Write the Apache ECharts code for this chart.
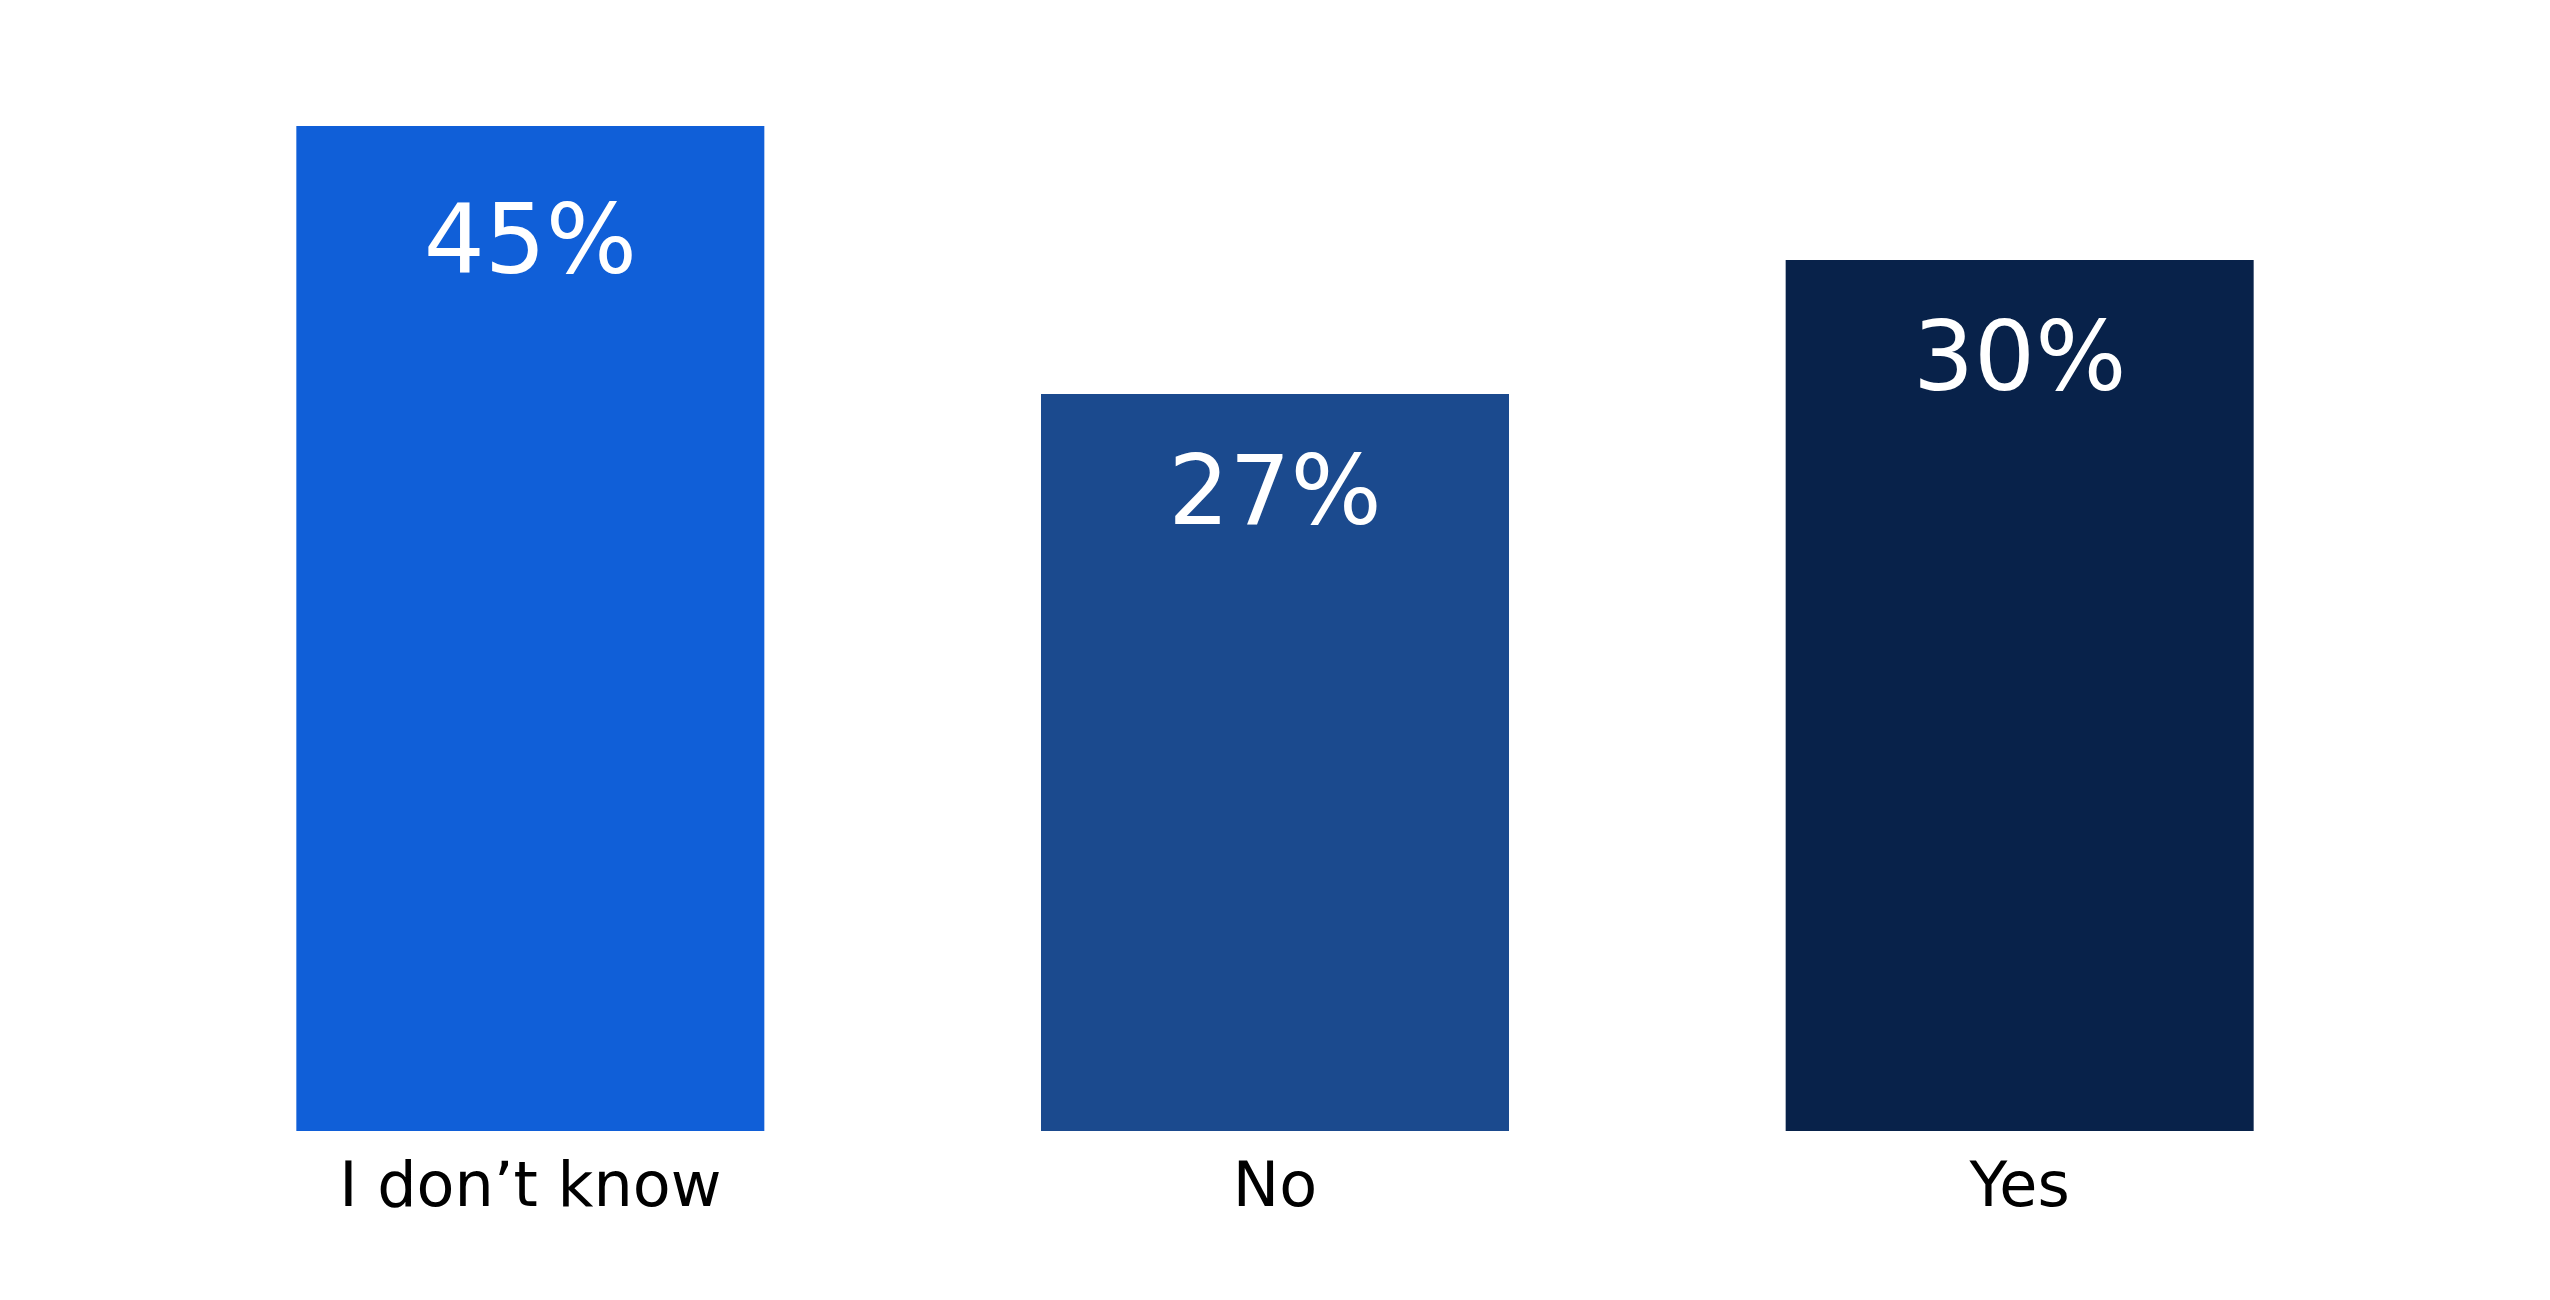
<!DOCTYPE html>
<html>
<head>
<meta charset="utf-8">
<script src="https://cdn.jsdelivr.net/npm/echarts@6/dist/echarts.min.js"></script>
<style>
  html, body { margin: 0; padding: 0; background: #ffffff; }
  #main { width: 2550px; height: 1300px; }
</style>
</head>
<body>
<div id="main"></div>
<script>
// categories along the x axis
var categories = ['I don\u2019t know', 'No', 'Yes'];
// bar heights as drawn in the picture
var barHeights = [45, 33, 39];
// the percentage text printed inside each bar
var valueLabels = ['45%', '27%', '30%'];
// one colour per bar
var barColors = ['#105FD8', '#1B4A8E', '#08224A'];

var chart = echarts.init(document.getElementById('main'));

var seriesData = [];
for (var i = 0; i < barHeights.length; i++) {
    seriesData.push({
        value: barHeights[i],
        itemStyle: { color: barColors[i] },
        // the first label sits a little lower in the original
        label: { distance: i === 0 ? 74 : 57 }
    });
}

var option = {
    animation: false,
    backgroundColor: '#ffffff',
    grid: {
        left: 158,
        right: 158,
        top: 126,
        bottom: 169
    },
    xAxis: {
        type: 'category',
        data: categories,
        axisLine: { show: false },
        axisTick: { show: false },
        axisLabel: {
            color: '#000000',
            fontFamily: 'DejaVu Sans',
            fontSize: 62,
            margin: 28
        }
    },
    yAxis: {
        type: 'value',
        min: 0,
        max: 45,
        show: false,
        splitLine: { show: false }
    },
    series: [{
        type: 'bar',
        data: seriesData,
        barWidth: 468,
        label: {
            show: true,
            position: 'insideTop',
            color: '#ffffff',
            fontFamily: 'DejaVu Sans',
            fontSize: 96,
            formatter: function (p) {
                return valueLabels[p.dataIndex];
            }
        }
    }]
};

chart.setOption(option);
</script>
</body>
</html>
